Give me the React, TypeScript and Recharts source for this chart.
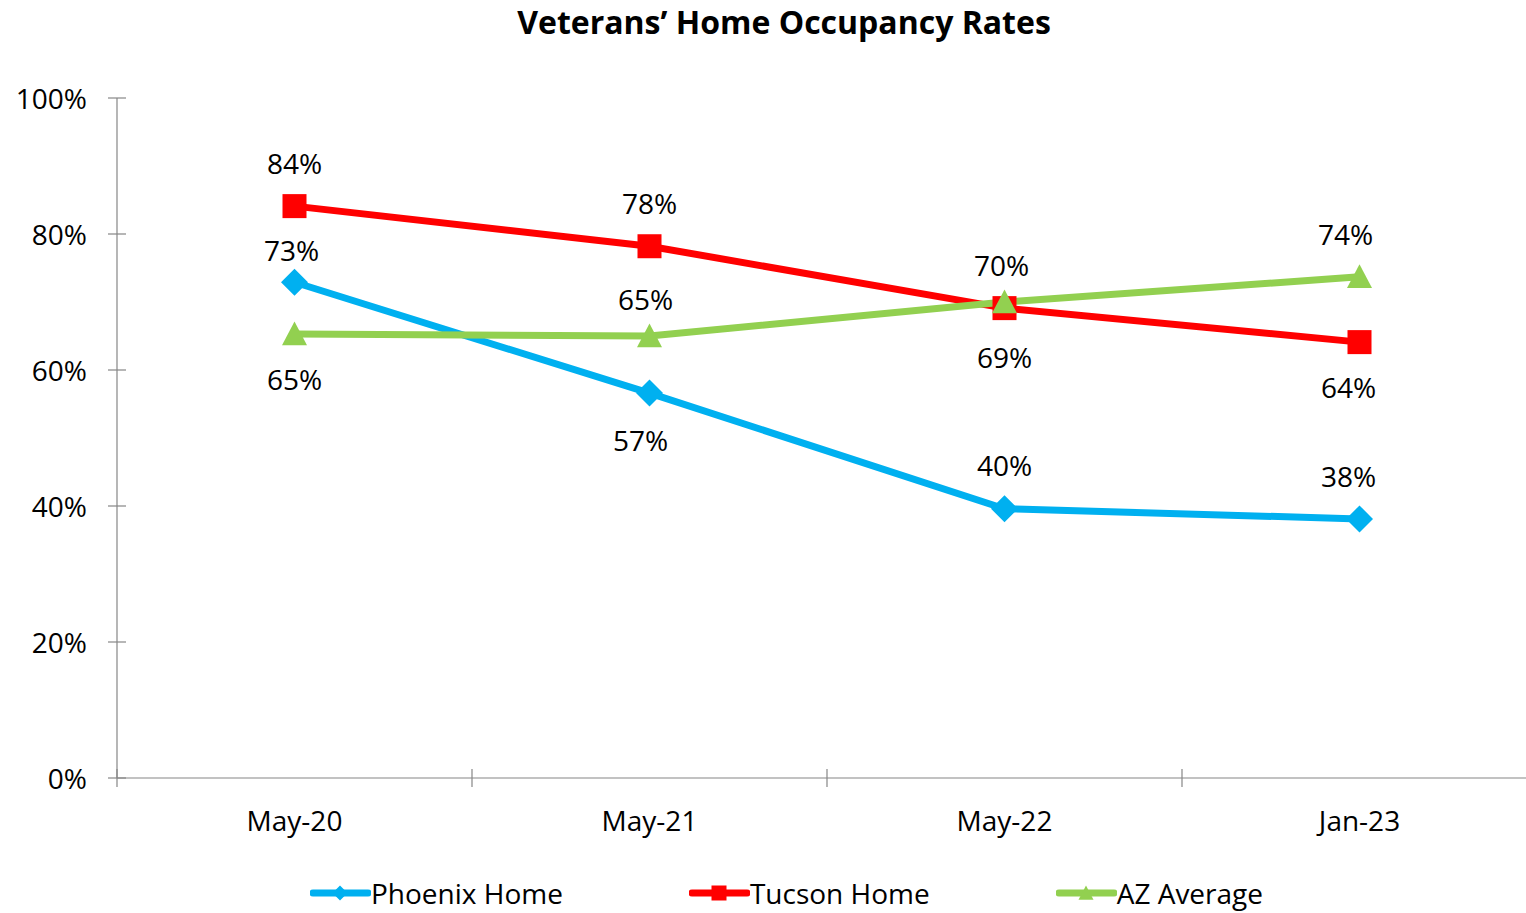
import React from 'react';
import { LineChart, Line, XAxis, YAxis, Legend, LabelList } from 'recharts';

const categories = ['May-20', 'May-21', 'May-22', 'Jan-23'];
const phoenix = [0.729, 0.566, 0.396, 0.381];
const tucson = [0.841, 0.782, 0.691, 0.641];
const azAverage = [0.653, 0.65, 0.7, 0.737];
const yTicks = [0, 0.2, 0.4, 0.6, 0.8, 1];
const xBoundaries = [0, 1, 2, 3, 4];

// label placement per point (style only)
const phoenixLabel = { dx: [-3, -9, 0, -11], dy: [-32, 47, -44, -43] };
const tucsonLabel = { dx: [0, 0, 0, -11], dy: [-43, -43, 49, 45] };
const azLabel = { dx: [0, -4, -3, -14], dy: [45, -37, -37, -43] };

const BLUE = '#00B0F0';
const RED = '#FF0000';
const GREEN = '#92D050';
const AXIS = '#868686';
const FONT = '"Open Sans", sans-serif';
const FS = 28;

const data = categories.map((name, i) => ({
  name,
  pos: i + 0.5,
  phoenix: phoenix[i],
  tucson: tucson[i],
  az: azAverage[i],
}));

const tickValues = [...xBoundaries, ...categories.map((_, i) => i + 0.5)].sort((a, b) => a - b);

const Marker = ({ shape, cx, cy, size, color }: any) => {
  const h = size / 2;
  if (shape === 'diamond') {
    return <polygon points={`${cx},${cy - h} ${cx + h},${cy} ${cx},${cy + h} ${cx - h},${cy}`} fill={color} />;
  }
  if (shape === 'square') {
    return <rect x={cx - h} y={cy - h} width={size} height={size} fill={color} />;
  }
  return <polygon points={`${cx},${cy - h} ${cx + h},${cy + h * 0.9} ${cx - h},${cy + h * 0.9}`} fill={color} />;
};

const makeDot = (shape: string, color: string, size: number) => (props: any) => (
  <Marker key={`${shape}-${props.index}`} shape={shape} cx={props.cx} cy={props.cy} size={size} color={color} />
);

const makeLabel = (place: { dx: number[]; dy: number[] }) => (props: any) => {
  const { x, y, value, index } = props;
  return (
    <text
      key={`lbl-${index}`}
      x={x + place.dx[index]}
      y={y + place.dy[index]}
      textAnchor="middle"
      dominantBaseline="central"
      fontFamily={FONT}
      fontSize={FS}
      fill="#000"
    >
      {`${Math.round(value * 100)}%`}
    </text>
  );
};

const XTick = (props: any) => {
  const { x, y, payload } = props;
  const v = payload.value;
  if (Number.isInteger(v)) {
    return <line x1={x} x2={x} y1={y - 9} y2={y + 9} stroke={AXIS} strokeWidth={1.2} />;
  }
  const idx = Math.floor(v);
  return (
    <text x={x} y={y + 42} textAnchor="middle" dominantBaseline="central" fontFamily={FONT} fontSize={FS} fill="#000">
      {categories[idx]}
    </text>
  );
};

const YTick = (props: any) => {
  const { x, y, payload } = props;
  return (
    <g>
      <line x1={x - 9} x2={x + 9} y1={y} y2={y} stroke={AXIS} strokeWidth={1.2} />
      <text x={x - 30} y={y} textAnchor="end" dominantBaseline="central" fontFamily={FONT} fontSize={FS} fill="#000">
        {`${Math.round(payload.value * 100)}%`}
      </text>
    </g>
  );
};

const legendItems = [
  { name: 'Phoenix Home', color: BLUE, shape: 'diamond' },
  { name: 'Tucson Home', color: RED, shape: 'square' },
  { name: 'AZ Average', color: GREEN, shape: 'triangle' },
];

const LegendContent = () => (
  <div style={{ display: 'flex', paddingLeft: 310, gap: 126, height: 40, alignItems: 'center' }}>
    {legendItems.map(item => (
      <div key={item.name} style={{ display: 'flex', alignItems: 'center' }}>
        <svg width={61} height={30}>
          <line x1={3} x2={58} y1={15} y2={15} stroke={item.color} strokeWidth={7} strokeLinecap="round" />
          <Marker shape={item.shape} cx={30} cy={15} size={15} color={item.color} />
        </svg>
        <span style={{ fontFamily: FONT, fontSize: FS, color: '#000', lineHeight: '30px' }}>{item.name}</span>
      </div>
    ))}
  </div>
);

export default function App() {
  return (
    <div style={{ position: 'absolute', left: 0, top: 0, width: 1526, height: 913, overflow: 'hidden', background: '#fff' }}>
      <div
        style={{
          position: 'absolute',
          top: 0,
          left: 0,
          width: 1568,
          textAlign: 'center',
          fontFamily: FONT,
          fontWeight: 700,
          fontSize: 32,
          color: '#000',
        }}
      >
        Veterans’ Home Occupancy Rates
      </div>
      <LineChart width={1537} height={913} data={data} margin={{ top: 98, right: 0, left: 0, bottom: 0 }}>
        <XAxis
          dataKey="pos"
          type="number"
          domain={[0, 4]}
          ticks={tickValues}
          interval={0}
          tickSize={0}
          tickMargin={0}
          tickLine={false}
          tick={<XTick />}
          axisLine={{ stroke: AXIS, strokeWidth: 1.2 }}
          height={95}
        />
        <YAxis
          type="number"
          domain={[0, 1]}
          ticks={yTicks}
          interval={0}
          width={117}
          tickSize={0}
          tickMargin={0}
          tickLine={false}
          tick={<YTick />}
          axisLine={{ stroke: AXIS, strokeWidth: 1.2 }}
        />
        <Legend verticalAlign="bottom" content={<LegendContent />} wrapperStyle={{ left: 0, width: 1537 }} />
        <Line
          dataKey="phoenix"
          name="Phoenix Home"
          stroke={BLUE}
          strokeWidth={7}
          dot={makeDot('diamond', BLUE, 27)}
          activeDot={false}
          isAnimationActive={false}
        >
          <LabelList dataKey="phoenix" content={makeLabel(phoenixLabel)} />
        </Line>
        <Line
          dataKey="tucson"
          name="Tucson Home"
          stroke={RED}
          strokeWidth={7}
          dot={makeDot('square', RED, 24)}
          activeDot={false}
          isAnimationActive={false}
        >
          <LabelList dataKey="tucson" content={makeLabel(tucsonLabel)} />
        </Line>
        <Line
          dataKey="az"
          name="AZ Average"
          stroke={GREEN}
          strokeWidth={7}
          dot={makeDot('triangle', GREEN, 25)}
          activeDot={false}
          isAnimationActive={false}
        >
          <LabelList dataKey="az" content={makeLabel(azLabel)} />
        </Line>
      </LineChart>
    </div>
  );
}
